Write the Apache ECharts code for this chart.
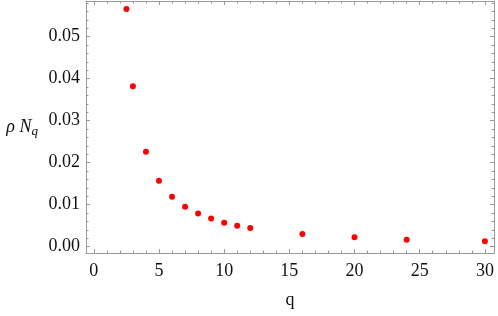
<!DOCTYPE html>
<html>
<head>
<meta charset="utf-8" />
<title>rho N_q vs q</title>
<script src="https://cdn.jsdelivr.net/npm/echarts@6/dist/echarts.min.js"></script>
<style>
  html, body { margin: 0; padding: 0; background: #fff; }
  #chart { width: 498px; height: 316px; }
</style>
</head>
<body>
<div id="chart"></div>
<script>
// data
const qValues = [2.5, 3, 4, 5, 6, 7, 8, 9, 10, 11, 12, 16, 20, 24, 30];
const rhoNq = [0.0566, 0.0382, 0.0226, 0.0157, 0.0119, 0.0095, 0.0079, 0.0067, 0.0057, 0.0050, 0.00445, 0.0030, 0.00224, 0.00167, 0.00128];

// tick positions
const xMajor = [0, 5, 10, 15, 20, 25, 30];
const xMinor = [1, 2, 3, 4, 6, 7, 8, 9, 11, 12, 13, 14, 16, 17, 18, 19, 21, 22, 23, 24, 26, 27, 28, 29];
const yMajor = [0, 0.01, 0.02, 0.03, 0.04, 0.05];
const yMinor = [0.002, 0.004, 0.006, 0.008, 0.012, 0.014, 0.016, 0.018, 0.022, 0.024, 0.026, 0.028,
  0.032, 0.034, 0.036, 0.038, 0.042, 0.044, 0.046, 0.048, 0.052, 0.054, 0.056, 0.058];

const X_MIN = -0.6, X_MAX = 30.7;
const Y_MIN = -0.0015, Y_MAX = 0.0585;
const frameColor = '#999';
const font = '"Liberation Serif", "Times New Roman", serif';

// one axis = one side of the frame, or one set of ticks on it
function xAx(pos, ticks, len, labels, line) {
  return {
    type: 'value', position: pos, min: X_MIN, max: X_MAX,
    splitLine: { show: false },
    axisLine: { show: line, onZero: false, lineStyle: { color: frameColor, width: 1 } },
    axisTick: { show: true, inside: true, length: len, customValues: ticks, lineStyle: { color: frameColor } },
    axisLabel: labels ? {
      show: true, customValues: ticks, margin: 9,
      fontFamily: font, fontSize: 18, color: '#111'
    } : { show: false }
  };
}
function yAx(pos, ticks, len, labels, line) {
  return {
    type: 'value', position: pos, min: Y_MIN, max: Y_MAX,
    splitLine: { show: false },
    axisLine: { show: line, onZero: false, lineStyle: { color: frameColor, width: 1 } },
    axisTick: { show: true, inside: true, length: len, customValues: ticks, lineStyle: { color: frameColor } },
    axisLabel: labels ? {
      show: true, customValues: ticks, margin: 6,
      fontFamily: font, fontSize: 18, color: '#111',
      formatter: function (v) { return v.toFixed(2); }
    } : { show: false }
  };
}

const xBottom = xAx('bottom', xMajor, 4, true, true);
xBottom.name = 'q';
xBottom.nameLocation = 'middle';
xBottom.nameGap = 38;
xBottom.nameTextStyle = { fontFamily: font, fontSize: 18, color: '#111' };

const yLeft = yAx('left', yMajor, 4, true, true);
yLeft.name = '{i|ρ N}{s|q}';
yLeft.nameLocation = 'middle';
yLeft.nameRotate = 0;
yLeft.nameGap = 48;
yLeft.nameTextStyle = {
  fontFamily: font, color: '#111', align: 'right',
  rich: {
    i: { fontFamily: font, fontStyle: 'italic', fontSize: 18, color: '#111' },
    s: { fontFamily: font, fontStyle: 'italic', fontSize: 13, color: '#111', padding: [10, 0, 0, 0] }
  }
};

const chart = echarts.init(document.getElementById('chart'));
chart.setOption({
  animation: false,
  grid: { left: 86, right: 4, top: 1, bottom: 63 },
  xAxis: [
    xBottom,
    xAx('bottom', xMinor, 2.5, false, false),
    xAx('top', xMajor, 4, false, true),
    xAx('top', xMinor, 2.5, false, false)
  ],
  yAxis: [
    yLeft,
    yAx('left', yMinor, 2.5, false, false),
    yAx('right', yMajor, 4, false, true),
    yAx('right', yMinor, 2.5, false, false)
  ],
  series: [{
    type: 'scatter',
    symbol: 'circle',
    symbolSize: 6,
    itemStyle: { color: '#ff0000', opacity: 1 },
    data: qValues.map(function (q, i) { return [q, rhoNq[i]]; })
  }]
});
</script>
</body>
</html>
